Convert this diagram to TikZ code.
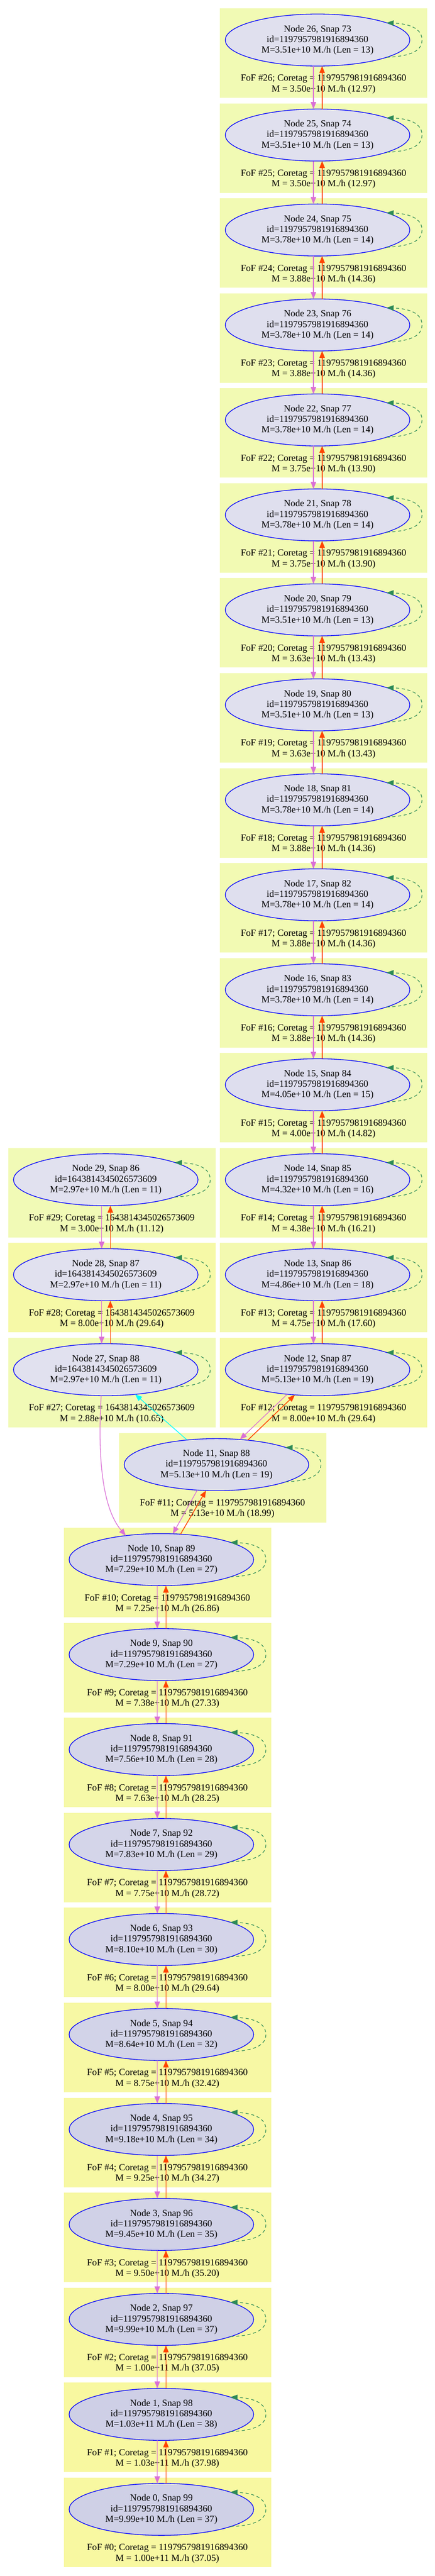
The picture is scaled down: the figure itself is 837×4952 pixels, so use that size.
\documentclass[tikz,border=0pt]{standalone}
\usepackage{fontspec}
\setmainfont{Liberation Serif}
\usetikzlibrary{arrows.meta,shapes.geometric,calc}
\definecolor{nLo}{RGB}{225,225,239}
\definecolor{nHi}{RGB}{206,207,230}
\definecolor{cLo}{RGB}{241,250,182}
\definecolor{cHi}{RGB}{248,248,160}
\definecolor{orchidc}{RGB}{218,112,214}
\definecolor{oredc}{RGB}{255,69,0}
\definecolor{cyanc}{RGB}{0,255,255}
\definecolor{seagreenc}{RGB}{46,139,87}
\tikzset{
  halo/.style={ellipse, draw=blue, line width=1.3pt, minimum width=355pt, minimum height=100pt,
    inner sep=0pt, outer sep=0pt, align=center, font={\fontsize{18.1}{20.3}\selectfont}},
  foflab/.style={align=center, inner sep=0pt, font={\fontsize{18.1}{20.3}\selectfont}},
  vio/.style={draw=orchidc, line width=1.3pt, ->},
  ored/.style={draw=oredc, line width=1.5pt, ->},
  cyanedge/.style={draw=cyanc, line width=1.3pt, ->},
  selfloop/.style={draw=seagreenc, line width=1.2pt, dash pattern=on 6pt off 5pt, ->},
}
% #1 node, #2 snap, #3 id, #4 mass, #5 len, #6 fof mass, #7 ratio, #8 cluster left, #9 row
\newcommand\halobox[9]{%
  \pgfmathsetmacro\hT{16+#9*182.57}%
  \pgfmathsetmacro\np{100*(#5-11)/27}%
  \pgfmathsetmacro\cp{100*(#7-10.65)/27.33}%
  \colorlet{tmpN}{nHi!\np!nLo}%
  \colorlet{tmpC}{cHi!\cp!cLo}%
  \fill[tmpC] (#8,-\hT) rectangle ++(399,-172);
  \node[halo, fill=tmpN] (n#1) at ({#8+188},{-\hT-61}) {Node #1, Snap #2\\id=#3\\M=#4 M./h (Len = #5)};
  \node[foflab] (f#1) at ({#8+199.5},{-\hT-146}) {FoF \##1; Coretag = #3\\M = #6 M./h (#7)};
  \draw[selfloop] (n#1.-14.7) .. controls ($(n#1.center)+(185,-31)$) and ($(n#1.center)+(201,-18)$) .. ($(n#1.center)+(201,0)$)
     .. controls ($(n#1.center)+(201,18)$) and ($(n#1.center)+(185,31)$) .. (n#1.14.7);
}
\begin{document}
\begin{tikzpicture}[x=1pt,y=1pt,>={Triangle[length=13.5pt,width=10.5pt]}]
\fill[white] (0,0) rectangle (837,-4952);
\useasboundingbox (0,0) rectangle (837,-4952);
\def\A{1197957981916894360}
\def\B{1643814345026573609}
\halobox{26}{73}{\A}{3.51e+10}{13}{3.50e+10}{12.97}{423}{0}
\halobox{25}{74}{\A}{3.51e+10}{13}{3.50e+10}{12.97}{423}{1}
\halobox{24}{75}{\A}{3.78e+10}{14}{3.88e+10}{14.36}{423}{2}
\halobox{23}{76}{\A}{3.78e+10}{14}{3.88e+10}{14.36}{423}{3}
\halobox{22}{77}{\A}{3.78e+10}{14}{3.75e+10}{13.90}{423}{4}
\halobox{21}{78}{\A}{3.78e+10}{14}{3.75e+10}{13.90}{423}{5}
\halobox{20}{79}{\A}{3.51e+10}{13}{3.63e+10}{13.43}{423}{6}
\halobox{19}{80}{\A}{3.51e+10}{13}{3.63e+10}{13.43}{423}{7}
\halobox{18}{81}{\A}{3.78e+10}{14}{3.88e+10}{14.36}{423}{8}
\halobox{17}{82}{\A}{3.78e+10}{14}{3.88e+10}{14.36}{423}{9}
\halobox{16}{83}{\A}{3.78e+10}{14}{3.88e+10}{14.36}{423}{10}
\halobox{15}{84}{\A}{4.05e+10}{15}{4.00e+10}{14.82}{423}{11}
\halobox{14}{85}{\A}{4.32e+10}{16}{4.38e+10}{16.21}{423}{12}
\halobox{13}{86}{\A}{4.86e+10}{18}{4.75e+10}{17.60}{423}{13}
\halobox{12}{87}{\A}{5.13e+10}{19}{8.00e+10}{29.64}{423}{14}
\halobox{29}{86}{\B}{2.97e+10}{11}{3.00e+10}{11.12}{15.5}{12}
\halobox{28}{87}{\B}{2.97e+10}{11}{8.00e+10}{29.64}{15.5}{13}
\halobox{27}{88}{\B}{2.97e+10}{11}{2.88e+10}{10.65}{15.5}{14}
\halobox{11}{88}{\A}{5.13e+10}{19}{5.13e+10}{18.99}{228.5}{15}
\halobox{10}{89}{\A}{7.29e+10}{27}{7.25e+10}{26.86}{122.5}{16}
\halobox{9}{90}{\A}{7.29e+10}{27}{7.38e+10}{27.33}{122.5}{17}
\halobox{8}{91}{\A}{7.56e+10}{28}{7.63e+10}{28.25}{122.5}{18}
\halobox{7}{92}{\A}{7.83e+10}{29}{7.75e+10}{28.72}{122.5}{19}
\halobox{6}{93}{\A}{8.10e+10}{30}{8.00e+10}{29.64}{122.5}{20}
\halobox{5}{94}{\A}{8.64e+10}{32}{8.75e+10}{32.42}{122.5}{21}
\halobox{4}{95}{\A}{9.18e+10}{34}{9.25e+10}{34.27}{122.5}{22}
\halobox{3}{96}{\A}{9.45e+10}{35}{9.50e+10}{35.20}{122.5}{23}
\halobox{2}{97}{\A}{9.99e+10}{37}{1.00e+11}{37.05}{122.5}{24}
\halobox{1}{98}{\A}{1.03e+11}{38}{1.03e+11}{37.98}{122.5}{25}
\halobox{0}{99}{\A}{9.99e+10}{37}{1.00e+11}{37.05}{122.5}{26}
% vertical edges
\foreach \u in {26,25,...,13,29,28,10,9,...,1} {
  \pgfmathtruncatemacro\lo{\u-1}
  \draw[vio] (n\u.-99.7) -- (n\lo.99.7);
  \draw[ored] (n\lo.80.3) -- (n\u.-80.3);
}
% cross edges
\draw[vio] (n12.-141.9) -- (n11.47.75);
\draw[ored] (n11.38.6) -- (n12.-132.25);
\draw[cyanedge] (n11.140.3) -- (n27.-40.3);
\draw[vio] (n27.-100.2) .. controls (186,-2830) and (204,-2908) .. (n10.146.3);
\draw[vio] (n11.-127.9) -- (n10.66.1);
\draw[ored] (n10.53.7) -- (n11.-112.9);
\end{tikzpicture}
\end{document}
